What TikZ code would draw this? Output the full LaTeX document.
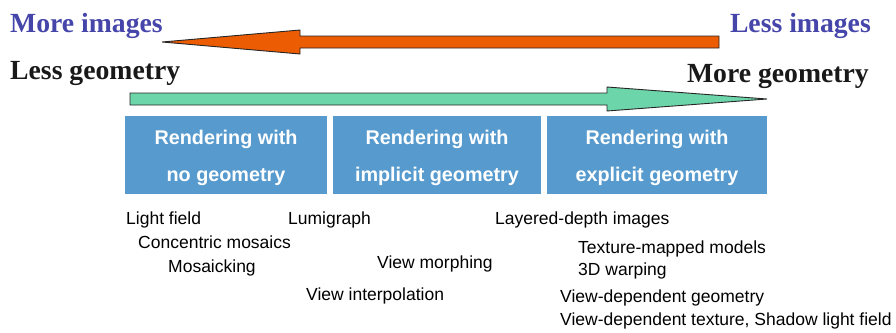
\documentclass[tikz,border=0pt]{standalone}
\usepackage{fontspec}
\setmainfont{Liberation Serif}
\setsansfont{Liberation Sans}
\usetikzlibrary{positioning}

\definecolor{imgblue}{RGB}{70,70,170}
\definecolor{geoblack}{RGB}{25,25,25}
\definecolor{boxblue}{RGB}{86,154,206}
\definecolor{lessorange}{RGB}{236,92,2}
\definecolor{moregreen}{RGB}{108,214,170}

\begin{document}
\begin{tikzpicture}[
    x=1pt, y=-1pt,
    big/.style={font=\fontsize{27.7}{30}\selectfont\bfseries, inner sep=0pt},
    blockarr/.style={draw=black!85, line width=0.9pt, line join=miter},
    box/.style={fill=boxblue, minimum height=78, inner sep=0pt},
    boxtxt/.style={text=white, font=\sffamily\bfseries\fontsize{19.8}{37}\selectfont, align=center, inner sep=0pt, yshift=-3pt},
    item/.style={font=\sffamily\fontsize{17.5}{20}\selectfont, anchor=base west, inner sep=0pt}
]
\useasboundingbox (0,0) rectangle (896,332);

% ---------- Top labels ----------
\node[big, imgblue, anchor=base west] (moreimg) at (10,32) {More images};
\node[big, imgblue, anchor=base east] (lessimg) at (871,32) {Less images};
\node[big, geoblack, anchor=base west] (lessgeo) at (10,79) {Less geometry};
\node[big, geoblack, anchor=base east] (moregeo) at (869,82) {More geometry};

% ---------- Block arrows ----------
\filldraw[blockarr, fill=lessorange] (719,36) -- (300,36) -- (300,30) -- (162,42)
    -- (300,54) -- (300,48) -- (719,48) -- cycle;
\filldraw[blockarr, fill=moregreen] (130,93) -- (607,93) -- (607,87) -- (767,99)
    -- (607,111) -- (607,105) -- (130,105) -- cycle;

% ---------- Boxes ----------
\node[box, minimum width=202] (nogeo)  at (226,155) {};
\node[box, minimum width=208] (impgeo) at (437,155) {};
\node[box, minimum width=220] (expgeo) at (657,155) {};
\node[boxtxt] (nogeotxt)  at (nogeo.center)  {Rendering with\\no geometry};
\node[boxtxt] (impgeotxt) at (impgeo.center) {Rendering with\\implicit geometry};
\node[boxtxt] (expgeotxt) at (expgeo.center) {Rendering with\\explicit geometry};

% ---------- Techniques ----------
\node[item] (lightfield) at (126,224) {Light field};
\node[item] (concentric) at (138,248) {Concentric mosaics};
\node[item] (mosaicking) at (168,272) {Mosaicking};
\node[item] (lumigraph)  at (288,224) {Lumigraph};
\node[item] (morphing)   at (377,268) {View morphing};
\node[item] (interp)     at (306,300) {View interpolation};
\node[item] (ldi)        at (495,224) {Layered-depth images};
\node[item] (texmapped)  at (578,253) {Texture-mapped models};
\node[item] (warping)    at (578,275) {3D warping};
\node[item] (vdgeo)      at (560,302) {View-dependent geometry};
\node[item] (vdtex)      at (560,325) {View-dependent texture, Shadow light field};

\end{tikzpicture}
\end{document}
